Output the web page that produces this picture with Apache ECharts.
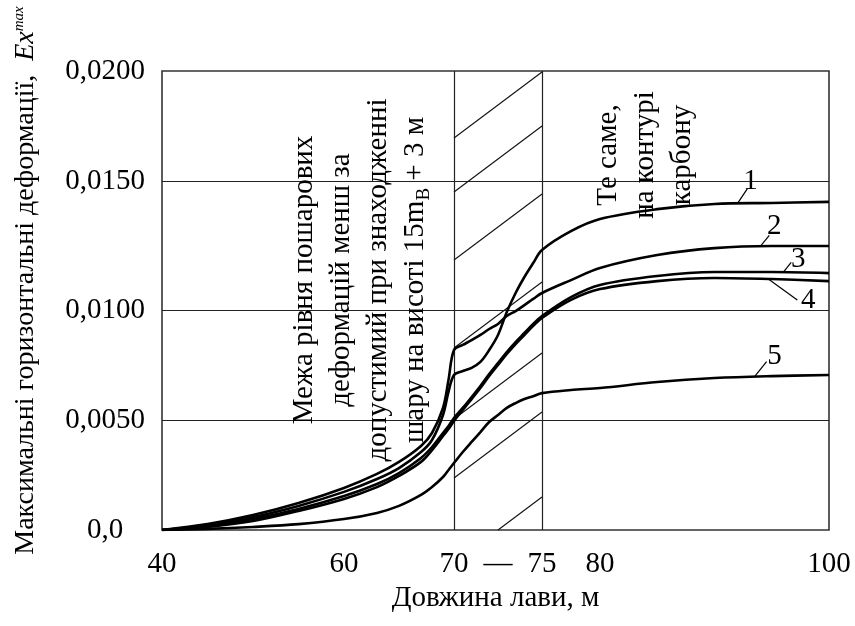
<!DOCTYPE html>
<html>
<head>
<meta charset="utf-8">
<script src="https://cdn.jsdelivr.net/npm/echarts@6/dist/echarts.min.js"></script>
<style>
  html, body { margin: 0; padding: 0; background: #fff; }
  #chart { width: 855px; height: 626px; }
</style>
</head>
<body>
<div id="chart"></div>
<script>
// Face length, m (common sample positions of all curves)
const lengthM = [40, 45, 50, 55, 60, 63, 65, 67, 68, 69, 69.5, 70, 70.5, 71, 71.5, 72, 72.5, 73, 73.5, 74, 74.5, 75, 77.5, 80, 85, 90, 95, 100];

// Maximum horizontal strain Ex^max for cases 1..5
const curve1 = [0, 0.00023, 0.00059, 0.00110, 0.00174, 0.00233, 0.00283, 0.00356, 0.00411, 0.00525, 0.00629, 0.00706, 0.00724, 0.00738, 0.00765, 0.00819, 0.00887, 0.00991, 0.01066, 0.01128, 0.01182, 0.01233, 0.01306, 0.01353, 0.01391, 0.01411, 0.01415, 0.01419];
const curve2 = [0, 0.00027, 0.00068, 0.00123, 0.00192, 0.00256, 0.00311, 0.00384, 0.00443, 0.00557, 0.00683, 0.00819, 0.00842, 0.00864, 0.00887, 0.00914, 0.00937, 0.00973, 0.00995, 0.01019, 0.01043, 0.01066, 0.01116, 0.01163, 0.01213, 0.01240, 0.01248, 0.01248];
const curve3 = [0, 0.00018, 0.00050, 0.00096, 0.00155, 0.00210, 0.00260, 0.00329, 0.00379, 0.00443, 0.00475, 0.00511, 0.00557, 0.00606, 0.00656, 0.00710, 0.00760, 0.00810, 0.00855, 0.00896, 0.00937, 0.00973, 0.01050, 0.01097, 0.01132, 0.01147, 0.01147, 0.01143];
const curve4 = [0, 0.00014, 0.00041, 0.00087, 0.00142, 0.00196, 0.00247, 0.00311, 0.00365, 0.00429, 0.00461, 0.00498, 0.00548, 0.00597, 0.00647, 0.00701, 0.00751, 0.00801, 0.00846, 0.00887, 0.00928, 0.00964, 0.01039, 0.01081, 0.01112, 0.01124, 0.01120, 0.01112];
const curve5 = [0, 0.00005, 0.00014, 0.00027, 0.00050, 0.00078, 0.00110, 0.00160, 0.00196, 0.00242, 0.00274, 0.00306, 0.00356, 0.00402, 0.00447, 0.00493, 0.00525, 0.00557, 0.00579, 0.00597, 0.00610, 0.00624, 0.00638, 0.00647, 0.00674, 0.00692, 0.00701, 0.00706];
const curveNames = ['1', '2', '3', '4', '5'];
// Face length at which each curve carries its number tag
const curveTagAt = [92, 94, 96, 94.7, 93.5];

// Tick labels
const xTickValues = [40, 60, 70, 75, 80, 100];
const xTickLabels = ['40', '60', '70', '75', '80', '100'];
const yTickValues = [0, 0.005, 0.010, 0.015, 0.020];
const yTickLabels = ['0,0', '0,0050', '0,0100', '0,0150', '0,0200'];
// Zone between the two limits, m
const zoneFrom = 70, zoneTo = 75;

// The axes are drawn with unequal segments (the 70–75 m zone is widened);
// each axis maps its breakpoints onto a linear layout scale.
const xBreaks = [40, 60, 70, 75, 80, 100];
const xBreakLayout = [0, 182, 292, 380, 438, 667];
const yBreaks = [0, 0.005, 0.010, 0.015, 0.020];
const yBreakLayout = [0, 109.5, 220, 349, 459];

function piecewise(breaks, layout) {
  return function (v) {
    let i = 0;
    while (i < breaks.length - 2 && v > breaks[i + 1]) i++;
    const t = (v - breaks[i]) / (breaks[i + 1] - breaks[i]);
    return layout[i] + t * (layout[i + 1] - layout[i]);
  };
}
const toX = piecewise(xBreaks, xBreakLayout);
const toY = piecewise(yBreaks, yBreakLayout);

const FONT = "'Liberation Serif', 'Times New Roman', serif";
const INK = '#000';

// Hand-spaced hatch strokes: rise of each stroke above the zone's lower-left corner, px
const hatchRise = [-33, 52, 111, 182, 270, 338, 392];
const hatchSlope = 0.75;

const xLabelMap = {};
xTickValues.forEach((v, i) => { xLabelMap[toX(v).toFixed(3)] = xTickLabels[i]; });
const dashPos = toX((zoneFrom + zoneTo) / 2);
xLabelMap[dashPos.toFixed(3)] = '—';
const yLabelMap = {};
yTickValues.forEach((v, i) => { yLabelMap[toY(v).toFixed(3)] = yTickLabels[i]; });

const curves = [curve1, curve2, curve3, curve4, curve5];

const chart = echarts.init(document.getElementById('chart'), null, { renderer: 'canvas' });

const option = {
  animation: false,
  backgroundColor: '#fff',
  grid: {
    left: 162, top: 71, right: 26, bottom: 96,
    outerBoundsMode: 'none',
    containLabel: false,
    show: true, borderColor: '#333', borderWidth: 1.6, backgroundColor: 'transparent'
  },
  xAxis: {
    type: 'value',
    min: xBreakLayout[0], max: xBreakLayout[xBreakLayout.length - 1],
    axisLine: { show: false },
    axisTick: { show: false, customValues: [toX(zoneFrom), toX(zoneTo)] },
    splitLine: { show: true, lineStyle: { color: '#222', width: 1.2 } },
    axisLabel: {
      customValues: xTickValues.map(toX).concat([dashPos]),
      formatter: v => xLabelMap[Number(v).toFixed(3)] || '',
      fontFamily: FONT, fontSize: 29, color: INK, margin: 20
    },
    name: 'Довжина лави, м',
    nameLocation: 'middle',
    nameGap: 52,
    nameTextStyle: { fontFamily: FONT, fontSize: 29, color: INK }
  },
  yAxis: {
    type: 'value',
    min: yBreakLayout[0], max: yBreakLayout[yBreakLayout.length - 1],
    axisLine: { show: false },
    axisTick: { show: false, customValues: yTickValues.slice(1, -1).map(toY) },
    splitLine: { show: true, lineStyle: { color: '#222', width: 1.2 } },
    axisLabel: {
      customValues: yTickValues.map(toY),
      formatter: v => yLabelMap[Number(v).toFixed(3)] || '',
      fontFamily: FONT, fontSize: 29, color: INK, align: 'center', margin: 57
    },
    name: 'Максимальні горизонтальні деформації,  {i|Ex}{s|max}',
    nameLocation: 'middle',
    nameGap: 122,
    nameRotate: 90,
    nameTextStyle: {
      fontFamily: FONT, fontSize: 28, color: INK, padding: [0, 0, 0, 40],
      rich: {
        i: { fontFamily: FONT, fontSize: 28, fontStyle: 'italic', color: INK },
        s: { fontFamily: FONT, fontSize: 15, fontStyle: 'italic', color: INK, verticalAlign: 'top', padding: [0, 0, 12, 0] }
      }
    }
  },
  series: [
    {
      // hatching of the 70–75 m zone
      type: 'custom',
      silent: true,
      z: 1,
      data: [0],
      renderItem: function (params, api) {
        const p0 = api.coord([toX(zoneFrom), toY(yBreaks[yBreaks.length - 1])]);
        const p1 = api.coord([toX(zoneTo), toY(0)]);
        const x0 = p0[0], x1 = p1[0], top = p0[1], bot = p1[1];
        const children = [];
        hatchRise.forEach(r => {
          const b = bot - r;
          const xs = Math.max(x0, x0 + (b - bot) / hatchSlope);
          const xe = Math.min(x1, x0 + (b - top) / hatchSlope);
          if (xe - xs < 1) return;
          children.push({
            type: 'line',
            shape: { x1: xs, y1: b - hatchSlope * (xs - x0), x2: xe, y2: b - hatchSlope * (xe - x0) },
            style: { stroke: '#111', lineWidth: 1.1 }
          });
        });
        return { type: 'group', children: children };
      }
    }
  ].concat(curves.map((c, k) => ({
    type: 'line',
    name: curveNames[k],
    data: lengthM.map((x, i) => [toX(x), toY(c[i])]),
    showSymbol: false,
    smooth: 0.35,
    z: 3,
    lineStyle: { color: INK, width: 2.6 }
  })))
};

chart.setOption(option);

// Number tags with leader lines, anchored on each curve
const tagLeader = [[10, -15], [9, -11], [8, -10], [29, 21], [12, -15]];
const tagText = [[13, -22], [14, -20], [15, -13], [40, 21], [20, -20]];

function valueAt(c, x) {
  for (let i = 0; i < lengthM.length - 1; i++) {
    if (x >= lengthM[i] && x <= lengthM[i + 1]) {
      const t = (x - lengthM[i]) / (lengthM[i + 1] - lengthM[i]);
      return c[i] + t * (c[i + 1] - c[i]);
    }
  }
  return c[c.length - 1];
}

const graphics = [];
curves.forEach((c, k) => {
  const p = chart.convertToPixel({ gridIndex: 0 }, [toX(curveTagAt[k]), toY(valueAt(c, curveTagAt[k]))]);
  graphics.push({
    type: 'line', z: 10,
    shape: { x1: p[0], y1: p[1], x2: p[0] + tagLeader[k][0], y2: p[1] + tagLeader[k][1] },
    style: { stroke: INK, lineWidth: 1.2 }
  });
  graphics.push({
    type: 'text', z: 10,
    x: p[0] + tagText[k][0], y: p[1] + tagText[k][1],
    style: { text: curveNames[k], fontFamily: FONT, fontSize: 29, fill: INK, align: 'center', verticalAlign: 'middle' }
  });
});

// Rotated annotations of the two limits
graphics.push({
  type: 'text', z: 5,
  x: 360, y: 280, rotation: Math.PI / 2,
  style: {
    text: '{t|Межа рівня пошарових}\n{t|деформацій менш за}\n{t|допустимий при знаходженні}\n{t|шару на висоті 15m}{b|В}{t| + 3 м}',
    align: 'center', verticalAlign: 'middle', fill: INK,
    rich: {
      t: { fontFamily: FONT, fontSize: 29, lineHeight: 37, fill: INK },
      b: { fontFamily: FONT, fontSize: 19, lineHeight: 37, fill: INK, verticalAlign: 'bottom', padding: [12, 0, 0, 0] }
    }
  }
});
graphics.push({
  type: 'text', z: 5,
  x: 645, y: 155, rotation: Math.PI / 2,
  style: {
    text: 'Те саме,\nна контурі\nкарбону',
    align: 'center', verticalAlign: 'middle', fill: INK,
    fontFamily: FONT, fontSize: 29, lineHeight: 37
  }
});

chart.setOption({ graphic: graphics });
</script>
</body>
</html>
